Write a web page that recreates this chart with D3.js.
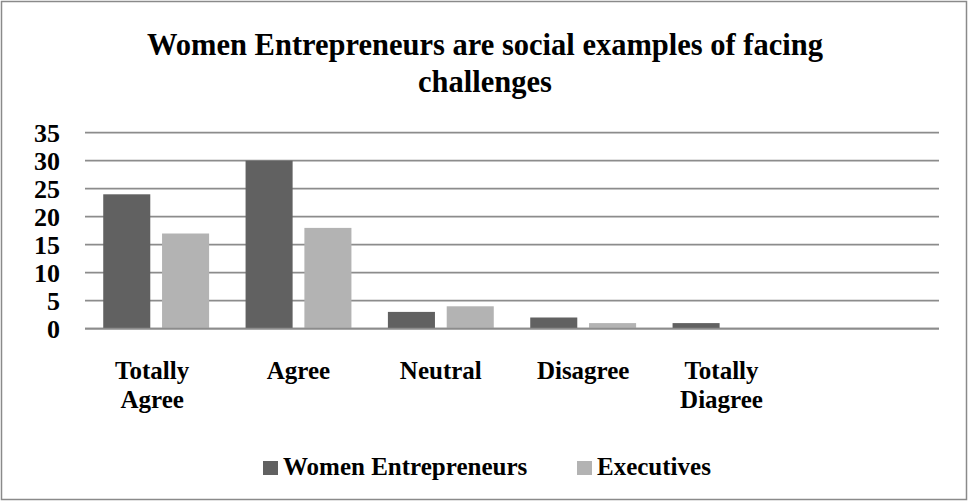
<!DOCTYPE html>
<html>
<head>
<meta charset="utf-8">
<script src="https://cdn.jsdelivr.net/npm/d3@7"></script>
<style>
  html, body { margin: 0; padding: 0; background: #fff; }
  svg { display: block; }
</style>
</head>
<body>
<svg id="chart" width="968" height="501"></svg>
<script>
const titleLines = ["Women Entrepreneurs are social examples of facing", "challenges"];
const categories = ["Totally Agree", "Agree", "Neutral", "Disagree", "Totally Diagree", ""];
const categoryLines = [["Totally", "Agree"], ["Agree"], ["Neutral"], ["Disagree"], ["Totally", "Diagree"], []];
const seriesNames = ["Women Entrepreneurs", "Executives"];
const womenEntrepreneurs = [24, 30, 3, 2, 1, null];
const executives = [17, 18, 4, 1, 0, null];
const yTicks = [0, 5, 10, 15, 20, 25, 30, 35];
const colors = ["#616161", "#b3b3b3"];

const FONT = "'Liberation Serif', 'Times New Roman', serif";
const svg = d3.select("#chart");
const W = 968, H = 501;

// border
svg.append("rect").attr("x", 1.5).attr("y", 1.5).attr("width", W - 3).attr("height", H - 3)
  .attr("fill", "#fff").attr("stroke", "#8a8a8a").attr("stroke-width", 1.5);

// title
const title = svg.append("text").attr("text-anchor", "middle")
  .style("font-family", FONT).style("font-weight", "bold").style("font-size", "30.5px");
titleLines.forEach((t, i) => {
  title.append("tspan").attr("x", 485).attr("y", 55 + i * 37).text(t);
});

const x0 = d3.scaleBand().domain(categories).range([85, 939]).paddingInner(0).paddingOuter(0);
const x1 = d3.scaleBand().domain(seriesNames).range([0, x0.bandwidth()]).paddingInner(0.2).paddingOuter(0.31);
const y = d3.scaleLinear().domain([0, 35]).range([328.7, 132.7]);

// y tick labels
const yAxis = d3.axisLeft(y).tickValues(yTicks).tickSize(0).tickPadding(0);
const gy = svg.append("g").attr("transform", "translate(60,0)").call(yAxis);
gy.select(".domain").remove();
gy.selectAll("text").attr("dy", "0.34em").attr("fill", "#000")
  .style("font-family", FONT).style("font-weight", "bold").style("font-size", "26px");

// gridlines
svg.append("g").selectAll("line").data(yTicks).join("line")
  .attr("x1", 85).attr("x2", 939)
  .attr("y1", d => y(d)).attr("y2", d => y(d))
  .attr("stroke", "#8c8c8c").attr("stroke-width", 1.8);

// bars
const series = [womenEntrepreneurs, executives];
const barData = [];
categories.forEach((c, i) => {
  seriesNames.forEach((s, j) => {
    const v = series[j][i];
    if (v !== null && v !== undefined) barData.push({ c, s, v, j });
  });
});
svg.append("g").selectAll("rect").data(barData).join("rect")
  .attr("x", d => x0(d.c) + x1(d.s))
  .attr("width", x1.bandwidth())
  .attr("y", d => y(d.v))
  .attr("height", d => y(0) - y(d.v))
  .attr("fill", d => colors[d.j]);

// zero line on top of bars
svg.append("line").attr("x1", 85).attr("x2", 939).attr("y1", y(0)).attr("y2", y(0))
  .attr("stroke", "#8c8c8c").attr("stroke-width", 1.8);

// x labels
categories.forEach((c, i) => {
  const lines = categoryLines[i];
  const cx = x0(c) + x0.bandwidth() / 2 - (lines.length > 1 ? 4 : 0);
  const t = svg.append("text").attr("text-anchor", "middle")
    .style("font-family", FONT).style("font-weight", "bold").style("font-size", "25px");
  lines.forEach((ln, k) => {
    t.append("tspan").attr("x", cx).attr("y", 379 + k * 29).text(ln);
  });
});

// legend
const legendX = [263, 577];
seriesNames.forEach((s, j) => {
  svg.append("rect").attr("x", legendX[j]).attr("y", 461).attr("width", 15).attr("height", 14).attr("fill", colors[j]);
  svg.append("text").attr("x", legendX[j] + 20).attr("y", 475)
    .style("font-family", FONT).style("font-weight", "bold").style("font-size", "25px").text(s);
});
</script>
</body>
</html>
